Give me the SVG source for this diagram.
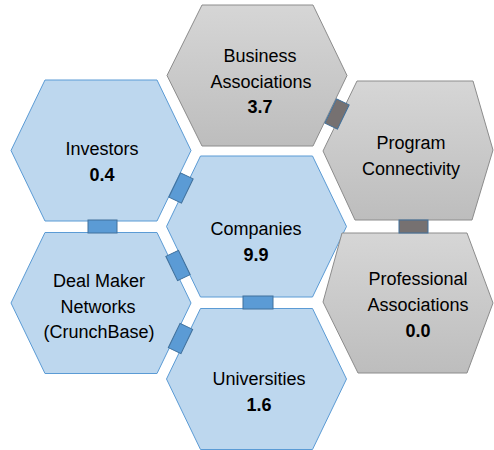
<svg xmlns="http://www.w3.org/2000/svg" width="494" height="450" viewBox="0 0 494 450">
<defs>
<linearGradient id="g" x1="0" y1="0" x2="0" y2="1">
<stop offset="0" stop-color="#D6D6D6"/>
<stop offset="1" stop-color="#BDBDBD"/>
</linearGradient>
<style>
.hb{fill:#BDD7EE;stroke:#5B9BD5;stroke-width:1}
.hg{fill:url(#g);stroke:#8C8C8C;stroke-width:1}
.cb{fill:#5B9BD5;stroke:#41719C;stroke-width:1}
.cg{fill:#767171;stroke:#41719C;stroke-width:1}
text{font-family:"Liberation Sans",Arial,sans-serif;font-size:18px;fill:#000;text-anchor:middle}
.b{font-weight:bold}
</style>
</defs>
<rect width="494" height="450" fill="#fff"/>
<g id="business">
<polygon class="hg" points="167,75.5 202,5 313,5 347,75.5 313,146 202,146"/>
<text x="260" y="62">Business</text>
<text x="261" y="88">Associations</text>
<text class="b" x="260" y="113">3.7</text>
</g>
<g id="investors">
<polygon class="hb" points="11,150.5 45,80 157,80 191,150.5 157,221 45,221"/>
<text x="102" y="155">Investors</text>
<text class="b" x="102" y="181">0.4</text>
</g>
<g id="companies">
<polygon class="hb" points="166.5,226.5 200.5,156 312.5,156 346.5,226.5 312.5,297 200.5,297"/>
<text x="256" y="235">Companies</text>
<text class="b" x="256" y="261">9.9</text>
</g>
<g id="program">
<polygon class="hg" points="323,151 357,81 473,81 493,150 472,220 355,220"/>
<text x="411" y="149">Program</text>
<text x="411" y="175">Connectivity</text>
</g>
<g id="dealmaker">
<polygon class="hb" points="11,303 45,232.5 157,232.5 191,303 157,373.5 45,373.5"/>
<text x="99" y="287">Deal Maker</text>
<text x="98" y="313">Networks</text>
<text x="99" y="338">(CrunchBase)</text>
</g>
<g id="professional">
<polygon class="hg" points="323,302 342,233 467,233 493,303 467,373 358,373"/>
<text x="418" y="285">Professional</text>
<text x="418" y="311">Associations</text>
<text class="b" x="418" y="337">0.0</text>
</g>
<g id="universities">
<polygon class="hb" points="166.5,379 200.5,308.5 312.5,308.5 346.5,379 312.5,449.5 200.5,449.5"/>
<text x="259" y="385">Universities</text>
<text class="b" x="259" y="411">1.6</text>
</g>
<g id="connectors">
<rect class="cb" x="88" y="220" width="29" height="13"/>
<rect class="cb" x="243" y="296" width="30" height="13"/>
<rect class="cg" x="399" y="220" width="29" height="13"/>
<rect class="cb" x="-7" y="-13.5" width="14" height="27" transform="translate(181,188) rotate(25.7)"/>
<rect class="cb" x="-7" y="-13.5" width="14" height="27" transform="translate(178,265.5) rotate(-25.7)"/>
<rect class="cb" x="-7" y="-13.5" width="14" height="27" transform="translate(180.5,338.5) rotate(25.7)"/>
<rect class="cg" x="-7" y="-13.5" width="14" height="27" transform="translate(337,114) rotate(25.7)"/>
</g>
</svg>
